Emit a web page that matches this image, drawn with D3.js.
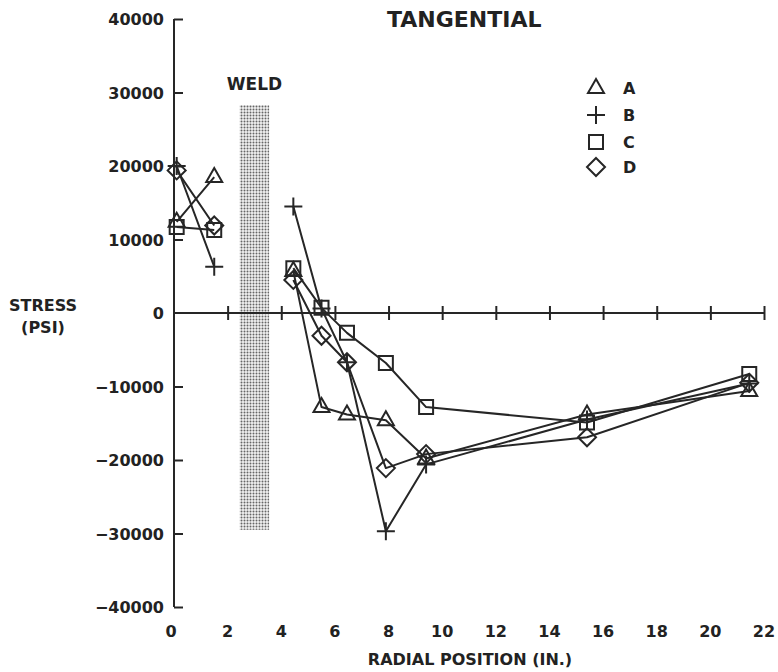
<!DOCTYPE html>
<html><head><meta charset="utf-8">
<script src="https://cdn.jsdelivr.net/npm/d3@7"></script>
<style>
html,body{margin:0;padding:0;background:#fff;}
svg{display:block;}
text{font-family:"DejaVu Sans",sans-serif;font-weight:bold;fill:#222;}
</style></head>
<body>
<svg id="c" width="778" height="672"></svg>
<script>
// ---- data ----
const radialPositions = [0.1, 1.5, 4.45, 5.5, 6.45, 7.9, 9.4, 15.4, 21.45];
const gapAfterIndex = 1; // weld separates the two measurement groups
const seriesNames = ["A", "B", "C", "D"];
const stressA = [12400, 18500, 5700, -12800, -13800, -14600, -19800, -13800, -10600];
const stressB = [20000, 6300, 14500, 600, -6700, -29700, -20600, -14500, -9600];
const stressC = [11700, 11300, 6100, 700, -2700, -6800, -12800, -14900, -8300];
const stressD = [19400, 11900, 4500, -3100, -6700, -21100, -19200, -16900, -9500];
const xTicks = [0, 2, 4, 6, 8, 10, 12, 14, 16, 18, 20, 22];
const yTicks = [40000, 30000, 20000, 10000, 0, -10000, -20000, -30000, -40000];
const weldRange = [2.45, 3.55];
const weldStress = [-29500, 28300];

const svg = d3.select("#c");
const x = d3.scaleLinear().domain([0, 22]).range([174, 764]);
const y = d3.scaleLinear().domain([-40000, 40000]).range([607, 19]);
const ink = "#262626";

// weld stipple pattern
const defs = svg.append("defs");
const pat = defs.append("pattern").attr("id", "stip").attr("patternUnits", "userSpaceOnUse")
  .attr("width", 3).attr("height", 3);
pat.append("rect").attr("width", 3).attr("height", 3).attr("fill", "#f2f2f2");
pat.append("circle").attr("cx", 1.5).attr("cy", 1.5).attr("r", 1.0).attr("fill", "#666");

svg.append("rect")
  .attr("x", x(weldRange[0])).attr("y", y(weldStress[1]))
  .attr("width", x(weldRange[1]) - x(weldRange[0]))
  .attr("height", y(weldStress[0]) - y(weldStress[1]))
  .attr("fill", "url(#stip)");

svg.append("text").attr("x", x((weldRange[0] + weldRange[1]) / 2)).attr("y", 90)
  .attr("text-anchor", "middle").attr("font-size", 17).text("WELD");

// y axis
const yAxis = d3.axisRight(y).tickValues(yTicks).tickSize(9).tickFormat("");
const gy = svg.append("g").attr("transform", `translate(${x(0)},0)`).call(yAxis);
gy.select(".domain").attr("stroke", ink).attr("stroke-width", 2).attr("d", `M0,${y(40000)}V${y(-40000)}`);
gy.selectAll(".tick line").attr("stroke", ink).attr("stroke-width", 2);
gy.selectAll(".tick").filter(d => d === 0).remove();

yTicks.forEach(v => {
  svg.append("text").attr("x", 164).attr("y", y(v) + 6)
    .attr("text-anchor", "end").attr("font-size", 16)
    .text(v < 0 ? "\u2212" + Math.abs(v) : String(v));
});

// x axis along zero line
const xAxis = d3.axisBottom(x).tickValues(xTicks.filter(d => d > 0)).tickSize(7).tickFormat("");
const gx = svg.append("g").attr("transform", `translate(0,${y(0)})`).call(xAxis);
gx.select(".domain").attr("stroke", ink).attr("stroke-width", 2).attr("d", `M${x(0)},0H${x(22)}`);
gx.selectAll(".tick line").attr("stroke", ink).attr("stroke-width", 2).attr("y1", -7).attr("y2", 7);

xTicks.forEach(v => {
  svg.append("text").attr("x", x(v) - (v === 0 ? 3 : 0)).attr("y", 637)
    .attr("text-anchor", "middle").attr("font-size", 16).text(v);
});

// titles
svg.append("text").attr("x", 387).attr("y", 27).attr("font-size", 22).text("TANGENTIAL");
svg.append("text").attr("x", 43).attr("y", 311).attr("text-anchor", "middle").attr("font-size", 16).text("STRESS");
svg.append("text").attr("x", 43).attr("y", 333).attr("text-anchor", "middle").attr("font-size", 16).text("(PSI)");
svg.append("text").attr("x", 470).attr("y", 665).attr("text-anchor", "middle").attr("font-size", 16).text("RADIAL POSITION (IN.)");

// markers
const markerPath = {
  A: "M0,-9L8,5L-8,5Z",
  B: "M-9,0H9M0,-9V9",
  C: "M-7,-7H7V7H-7Z",
  D: "M0,-9L9,0L0,9L-9,0Z"
};
const allSeries = [stressA, stressB, stressC, stressD];

const line = d3.line().defined(d => d != null).x(d => x(d[0])).y(d => y(d[1]));
allSeries.forEach((vals, si) => {
  const pts = [];
  vals.forEach((v, i) => {
    pts.push([radialPositions[i], v]);
    if (i === gapAfterIndex) pts.push(null);
  });
  svg.append("path").datum(pts).attr("d", line)
    .attr("fill", "none").attr("stroke", ink).attr("stroke-width", 2).attr("stroke-linejoin", "round");
});
allSeries.forEach((vals, si) => {
  svg.append("g").selectAll("path").data(vals).join("path")
    .attr("transform", (v, i) => `translate(${x(radialPositions[i])},${y(v)})`)
    .attr("d", markerPath[seriesNames[si]])
    .attr("fill", "none").attr("stroke", ink).attr("stroke-width", 2);
});

// legend
const legendY = [88, 115, 142, 167];
seriesNames.forEach((n, i) => {
  svg.append("path").attr("transform", `translate(596,${legendY[i]})`)
    .attr("d", markerPath[n]).attr("fill", "none").attr("stroke", ink).attr("stroke-width", 2);
  svg.append("text").attr("x", 623).attr("y", legendY[i] + 6).attr("font-size", 16).text(n);
});
</script>
</body></html>
